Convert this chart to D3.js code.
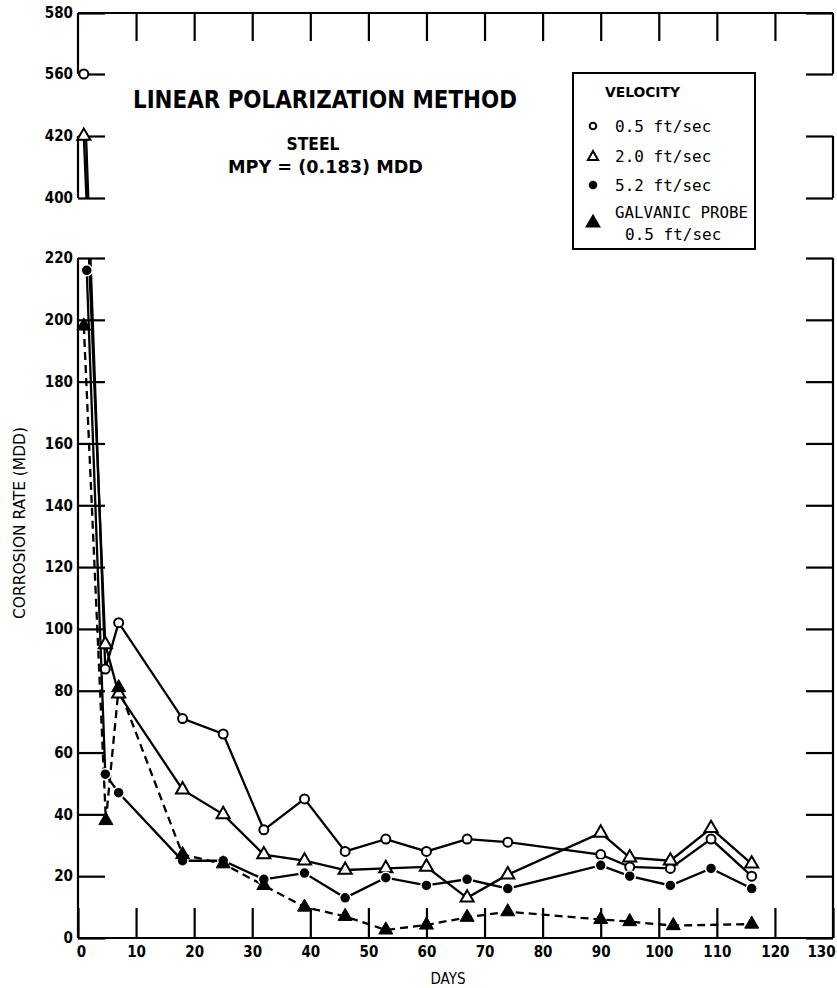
<!DOCTYPE html>
<html>
<head>
<meta charset="utf-8">
<script src="https://cdn.jsdelivr.net/npm/d3@7"></script>
<style>
  body { margin: 0; background: #fff; }
  svg { display: block; }
</style>
</head>
<body>
<script>
// data (days, corrosion rate in MDD)
const days05 = [1, 4.7, 7, 18, 25, 32, 39, 46, 53, 60, 67, 74, 90, 95, 102, 109, 116];
const rate05 = [560, 87, 102, 71, 66, 35, 45, 28, 32, 28, 32, 31, 27, 23, 22.5, 32, 20];

const days20 = [1, 4.7, 7, 18, 25, 32, 39, 46, 53, 60, 67, 74, 90, 95, 102, 109, 116];
const rate20 = [420, 95, 79, 48, 40, 27, 25, 22, 22.5, 23, 13, 20.5, 34, 26, 25, 35.5, 24];

const days52 = [1.5, 4.7, 7, 18, 25, 32, 39, 46, 53, 60, 67, 74, 90, 95, 102, 109, 116];
const rate52 = [216, 53, 47, 25, 25, 19, 21, 13, 19.5, 17, 19, 16, 23.5, 20, 17, 22.5, 16];

const daysGal = [1, 4.8, 7, 18, 25, 32, 39, 46, 53, 60, 67, 74, 90, 95, 102.5, 116];
const rateGal = [198, 38, 81, 27, 24, 17, 10, 7, 2.6, 4.2, 6.7, 8.5, 6, 5.3, 4, 4.5];

const xTicks = [0, 10, 20, 30, 40, 50, 60, 70, 80, 90, 100, 110, 120, 130];
const yTicks = [0, 20, 40, 60, 80, 100, 120, 140, 160, 180, 200, 220, 400, 420, 560, 580];
// pieces of the broken y axis
const panels = [[0, 220], [400, 420], [560, 580]];

const width = 837, height = 988;
const condensed = '"DejaVu Sans Condensed", "Liberation Sans Narrow", sans-serif';
const mono = '"DejaVu Sans Mono", "Liberation Mono", monospace';

const svg = d3.select('body').append('svg')
  .attr('width', width)
  .attr('height', height)
  .style('background', '#fff');

const xScale = d3.scaleLinear().domain([0, 130]).range([78, 833]);
// polylinear scale does the axis breaks
const yScale = d3.scaleLinear()
  .domain([0, 220, 400, 420, 560, 580])
  .range([938, 258, 198, 136, 74, 13]);

const x0 = xScale(0), x1 = xScale(130);

// clip: only draw lines inside the three pieces
const clip = svg.append('defs').append('clipPath').attr('id', 'panels');
panels.forEach(function(p){
  clip.append('rect')
    .attr('x', x0).attr('width', x1 - x0)
    .attr('y', yScale(p[1])).attr('height', yScale(p[0]) - yScale(p[1]));
});

// frame segments
const frame = svg.append('g').attr('stroke', '#000').attr('stroke-width', 2.2);
panels.forEach(function(p){
  [x0, x1].forEach(function(xx){
    frame.append('line')
      .attr('x1', xx).attr('x2', xx)
      .attr('y1', yScale(p[0])).attr('y2', yScale(p[1]));
  });
});
frame.append('line').attr('x1', x0).attr('x2', x1).attr('y1', yScale(580)).attr('y2', yScale(580));
frame.append('line').attr('x1', x0).attr('x2', x1).attr('y1', yScale(0)).attr('y2', yScale(0));

function styleAxis(g){
  g.select('.domain').remove();
  g.selectAll('.tick line').attr('stroke', '#000').attr('stroke-width', 2.2);
  g.selectAll('.tick text')
    .attr('fill', '#000')
    .style('font-family', condensed)
    .style('font-weight', 'bold')
    .style('font-size', '15px');
}

// left axis, ticks pointing in
svg.append('g')
  .attr('transform', 'translate(' + x0 + ',0)')
  .call(d3.axisLeft(yScale).tickValues(yTicks).tickSize(-27).tickPadding(5))
  .call(styleAxis);

// right axis
svg.append('g')
  .attr('transform', 'translate(' + x1 + ',0)')
  .call(d3.axisRight(yScale).tickValues(yTicks).tickSize(-27).tickFormat(''))
  .call(styleAxis);

// bottom axis
const xAxisG = svg.append('g')
  .attr('transform', 'translate(0,' + yScale(0) + ')')
  .call(d3.axisBottom(xScale).tickValues(xTicks).tickSize(-30).tickPadding(8))
  .call(styleAxis);
xAxisG.selectAll('.tick text').attr('dx', function(d){ return d === 130 ? -12 : (d === 0 ? 3 : 0); });

// top axis
svg.append('g')
  .attr('transform', 'translate(0,' + yScale(580) + ')')
  .call(d3.axisTop(xScale).tickValues(xTicks.slice(1, -1)).tickSize(-28).tickFormat(''))
  .call(styleAxis);

// series
const series = [
  {days: days05, rate: rate05, marker: 'circle', fill: '#fff', dash: null, width: 2.3},
  {days: days20, rate: rate20, marker: 'triangle', fill: '#fff', dash: null, width: 2.3},
  {days: days52, rate: rate52, marker: 'circle', fill: '#000', dash: null, width: 2.3},
  {days: daysGal, rate: rateGal, marker: 'triangle', fill: '#000', dash: '8,5', width: 2.3}
];

const line = d3.line()
  .x(function(d){ return xScale(d[0]); })
  .y(function(d){ return yScale(d[1]); });

const lines = svg.append('g').attr('clip-path', 'url(#panels)');
series.forEach(function(s){
  const pts = d3.zip(s.days, s.rate);
  lines.append('path')
    .datum(pts)
    .attr('d', line)
    .attr('fill', 'none')
    .attr('stroke', '#000')
    .attr('stroke-width', s.width)
    .attr('stroke-dasharray', s.dash);
});

const triOpen = d3.symbol(d3.symbolTriangle, 75);
const triFill = d3.symbol(d3.symbolTriangle, 85);

series.forEach(function(s){
  const pts = d3.zip(s.days, s.rate);
  const g = svg.append('g');
  if (s.marker === 'circle') {
    g.selectAll('circle').data(pts).join('circle')
      .attr('cx', function(d){ return xScale(d[0]); })
      .attr('cy', function(d){ return yScale(d[1]); })
      .attr('r', s.fill === '#fff' ? 4.5 : 5.5)
      .attr('fill', s.fill)
      .attr('stroke', s.fill === '#fff' ? '#000' : '#fff')
      .attr('stroke-width', s.fill === '#fff' ? 2 : 1.5);
  } else {
    g.selectAll('path').data(pts).join('path')
      .attr('d', s.fill === '#fff' ? triOpen : triFill)
      .attr('transform', function(d){ return 'translate(' + xScale(d[0]) + ',' + yScale(d[1]) + ')'; })
      .attr('fill', s.fill)
      .attr('stroke', '#000')
      .attr('stroke-width', s.fill === '#fff' ? 2 : 1);
  }
});

// titles
svg.append('text')
  .attr('x', 133).attr('y', 108)
  .attr('textLength', 384).attr('lengthAdjust', 'spacingAndGlyphs')
  .style('font-family', condensed).style('font-weight', 'bold').style('font-size', '24px')
  .text('LINEAR POLARIZATION METHOD');

svg.append('text')
  .attr('x', 313).attr('y', 150).attr('text-anchor', 'middle')
  .attr('textLength', 53).attr('lengthAdjust', 'spacingAndGlyphs')
  .style('font-family', condensed).style('font-weight', 'bold').style('font-size', '17px')
  .text('STEEL');

svg.append('text')
  .attr('x', 228).attr('y', 173)
  .attr('textLength', 195).attr('lengthAdjust', 'spacingAndGlyphs')
  .style('font-family', condensed).style('font-weight', 'bold').style('font-size', '17px')
  .text('MPY = (0.183) MDD');

// legend
const leg = svg.append('g');
leg.append('rect')
  .attr('x', 573).attr('y', 73).attr('width', 182).attr('height', 176)
  .attr('fill', '#fff').attr('stroke', '#000').attr('stroke-width', 2);
leg.append('text')
  .attr('x', 605).attr('y', 97)
  .attr('textLength', 75).attr('lengthAdjust', 'spacingAndGlyphs')
  .style('font-family', condensed).style('font-weight', 'bold').style('font-size', '14px')
  .text('VELOCITY');

const legendItems = [
  {label: '0.5 ft/sec', y: 132, marker: 'circle', fill: '#fff'},
  {label: '2.0 ft/sec', y: 162, marker: 'triangle', fill: '#fff'},
  {label: '5.2 ft/sec', y: 191, marker: 'circle', fill: '#000'}
];
legendItems.forEach(function(it){
  leg.append('text')
    .attr('x', 615).attr('y', it.y)
    .style('font-family', mono).style('font-size', '16px')
    .text(it.label);
  if (it.marker === 'circle') {
    leg.append('circle')
      .attr('cx', 593).attr('cy', it.y - 6).attr('r', 3.3)
      .attr('fill', it.fill).attr('stroke', '#000').attr('stroke-width', 2);
  } else {
    leg.append('path')
      .attr('d', d3.symbol(d3.symbolTriangle, 45))
      .attr('transform', 'translate(593,' + (it.y - 5) + ')')
      .attr('fill', it.fill).attr('stroke', '#000').attr('stroke-width', 2);
  }
});
leg.append('path')
  .attr('d', d3.symbol(d3.symbolTriangle, 110))
  .attr('transform', 'translate(593,223)')
  .attr('fill', '#000');
leg.append('text')
  .attr('x', 615).attr('y', 218)
  .attr('textLength', 133).attr('lengthAdjust', 'spacingAndGlyphs')
  .style('font-family', mono).style('font-size', '16px')
  .text('GALVANIC PROBE');
leg.append('text')
  .attr('x', 625).attr('y', 240)
  .style('font-family', mono).style('font-size', '16px')
  .text('0.5 ft/sec');

// axis titles
svg.append('text')
  .attr('transform', 'translate(25,523) rotate(-90)')
  .attr('text-anchor', 'middle')
  .attr('textLength', 192).attr('lengthAdjust', 'spacingAndGlyphs')
  .style('font-family', condensed).style('font-size', '15px')
  .text('CORROSION RATE (MDD)');

svg.append('text')
  .attr('x', 448).attr('y', 984).attr('text-anchor', 'middle')
  .style('font-family', condensed).style('font-size', '15px')
  .text('DAYS');
</script>
</body>
</html>
